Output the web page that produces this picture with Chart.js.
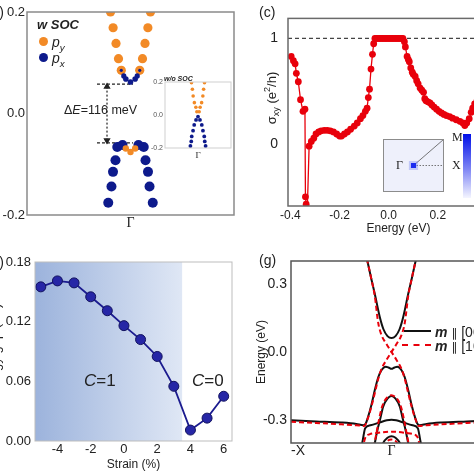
<!DOCTYPE html>
<html lang="en">
<head>
  <meta charset="UTF-8">
  <title>Band gap, Hall conductance and slab bands</title>
  <script src="https://cdn.jsdelivr.net/npm/chart.js"></script>
  <style>
    body { margin: 0; background: #fff; }
    #fig {
      position: relative; width: 474px; height: 474px; overflow: hidden; background: #fff;
      font-family: 'Liberation Sans', Arial, sans-serif; color: #222;
    }
    #fig canvas { position: absolute; }
    .t { position: absolute; white-space: nowrap; line-height: 1; }
    .rot { transform: translate(-50%, -50%) rotate(-90deg); }
    .serif { font-family: 'Liberation Serif', 'Times New Roman', serif; }
    .dot { position: absolute; border-radius: 50%; }
    sub, sup { font-size: 70%; line-height: 0; }
    .par { font-family: 'DejaVu Sans', sans-serif; font-size: 12px; }
  </style>
</head>
<body>
<div id="fig">
  <canvas id="bandsSoc" width="240" height="235" style="left:0;top:0"></canvas>
  <canvas id="bandsNoSoc" width="87" height="92" style="left:148px;top:74px"></canvas>
  <canvas id="hall" width="276" height="237" style="left:237px;top:0"></canvas>
  <canvas id="bz" width="73" height="65" style="left:377px;top:133px"></canvas>
  <canvas id="gapStrain" width="252" height="237" style="left:-12px;top:237px"></canvas>
  <canvas id="slab" width="260" height="237" style="left:237px;top:237px"></canvas>

  <!-- top left -->
  <div class="t" style="right:470px;top:5px;font-size:14px">(b)</div>
  <div class="t" style="left:37px;top:18px;font-size:13px;font-weight:bold;font-style:italic">w SOC</div>
  <div class="dot" style="left:39px;top:37px;width:9px;height:9px;background:#f28a26"></div>
  <div class="t" style="left:52px;top:35px;font-size:14px;font-style:italic">p<sub>y</sub></div>
  <div class="dot" style="left:39px;top:53px;width:9px;height:9px;background:#0d1a8c"></div>
  <div class="t" style="left:52px;top:51px;font-size:14px;font-style:italic">p<sub>x</sub></div>
  <div class="t" style="left:64px;top:104px;font-size:12.5px">&Delta;<i>E</i>=116 meV</div>
  <div class="t" style="left:164px;top:75px;font-size:7px;font-weight:bold;font-style:italic">w/o SOC</div>

  <!-- top right -->
  <div class="t" style="left:259px;top:5px;font-size:14px">(c)</div>
  <div class="t rot" style="left:271px;top:98px;font-size:13px">&sigma;<sub>xy</sub> (e<sup>2</sup>/h)</div>
  <div class="t serif" style="left:396px;top:159px;font-size:12px">&Gamma;</div>
  <div class="t serif" style="left:452px;top:131px;font-size:12px">M</div>
  <div class="t serif" style="left:452px;top:159px;font-size:12px">X</div>
  <div style="position:absolute;left:463px;top:134px;width:8px;height:64px;background:linear-gradient(#0010e8,#7f86f4 55%,#f4f5ff)"></div>

  <!-- bottom left -->
  <div class="t" style="right:470px;top:255px;font-size:14px">(f)</div>
  <div class="t rot" style="left:-5px;top:351px;font-size:13px">Energy gap (eV)</div>
  <div class="t" style="left:84px;top:372px;font-size:17px"><i>C</i>=1</div>
  <div class="t" style="left:192px;top:372px;font-size:17px"><i>C</i>=0</div>

  <!-- bottom right -->
  <div class="t" style="left:259px;top:253px;font-size:14px">(g)</div>
  <div style="position:absolute;left:404px;top:330px;width:27px;border-top:2px solid #111"></div>
  <div class="t" style="left:435px;top:325px;font-size:14px"><b><i>m</i></b> <span class="par">&#8741;</span> [001]</div>
  <div style="position:absolute;left:402px;top:344px;width:29px;border-top:2px dashed #e8000b"></div>
  <div class="t" style="left:435px;top:339px;font-size:14px"><b><i>m</i></b> <span class="par">&#8741;</span> [100]</div>
</div>

<script>
// ---- band structure with SOC (k in units of the half window, E in eV)
const pyUpK = [-0.193, 0.193, -0.168, 0.168, -0.14, 0.14, -0.116, 0.116, -0.089, 0.089];
const pyUpE = [0.200, 0.200, 0.169, 0.169, 0.138, 0.138, 0.108, 0.108, 0.085, 0.085];
const pxUpK = [-0.089, 0.089, -0.065, 0.065, -0.045, 0, 0.045];
const pxUpE = [0.085, 0.085, 0.074, 0.074, 0.068, 0.062, 0.068];
const pyDnK = [-0.045, 0, 0.045];
const pyDnE = [-0.069, -0.076, -0.069];
const pxDnK = [-0.215, 0.215, -0.184, 0.184, -0.169, 0.169, -0.145, 0.145, -0.128, 0.128, -0.077, 0.077];
const pxDnE = [-0.176, -0.176, -0.144, -0.144, -0.115, -0.115, -0.092, -0.092, -0.066, -0.066, -0.062, -0.062];
const gapTop = 0.058, gapBot = -0.058;
const gapLineK = [-0.324, 0.024];
const arrowK = -0.227;
const bandTicks = [-0.2, 0, 0.2];

// ---- inset without SOC
const nsPyK = [-0.197, 0.197, -0.17, 0.17, -0.147, 0.147, -0.11, 0.11, -0.065, 0.065, -0.035, 0.035];
const nsPyE = [0.196, 0.196, 0.156, 0.156, 0.115, 0.115, 0.075, 0.075, 0.047, 0.047, 0.02, 0.02];
const nsPxK = [0, -0.06, 0.06, -0.115, 0.115, -0.15, 0.15, -0.19, 0.19, -0.205, 0.205, -0.23, 0.23];
const nsPxE = [-0.01, -0.03, -0.03, -0.06, -0.06, -0.095, -0.095, -0.13, -0.13, -0.16, -0.16, -0.188, -0.188];

// ---- anomalous Hall conductance vs energy
const hallE = [
  -0.397, -0.388, -0.381, -0.376, -0.368, -0.359, -0.349, -0.341, -0.339, -0.336, -0.333,
  -0.324, -0.315, -0.305, -0.296, -0.285, -0.275, -0.262, -0.25, -0.238, -0.225, -0.212,
  -0.2, -0.192, -0.18, -0.168, -0.155, -0.14, -0.128, -0.115, -0.105, -0.095, -0.088,
  -0.083, -0.078, -0.072, -0.066, -0.061,
  -0.056, -0.05, -0.044, -0.038, -0.032, -0.026, -0.02, -0.014, -0.008, -0.002,
  0.004, 0.01, 0.016, 0.022, 0.028, 0.034, 0.04, 0.046, 0.052, 0.058,
  0.064, 0.068, 0.075, 0.08, 0.084, 0.09, 0.096, 0.1, 0.108, 0.114, 0.12, 0.128, 0.135,
  0.142, 0.147, 0.152, 0.16, 0.168, 0.176, 0.185, 0.195, 0.205, 0.215, 0.225, 0.235,
  0.248, 0.26, 0.275, 0.29, 0.302, 0.31, 0.318, 0.328, 0.336, 0.342, 0.35, 0.36
];
const hallS = [
  0.83, 0.79, 0.76, 0.67, 0.59, 0.42, 0.31, 0.33, -0.50, -0.57, -0.75,
  -0.02, 0.025, 0.055, 0.095, 0.115, 0.125, 0.13, 0.13, 0.125, 0.115, 0.095,
  0.075, 0.075, 0.095, 0.115, 0.14, 0.17, 0.2, 0.24, 0.27, 0.31, 0.34,
  0.44, 0.52, 0.71, 0.85, 0.95,
  1, 1, 1, 1, 1, 1, 1, 1, 1, 1,
  1, 1, 1, 1, 1, 1, 1, 1, 1, 1,
  0.97, 0.92, 0.83, 0.80, 0.78, 0.72, 0.68, 0.66, 0.64, 0.60, 0.57, 0.53, 0.51,
  0.49, 0.43, 0.41, 0.40, 0.39, 0.37, 0.35, 0.33, 0.31, 0.295, 0.28, 0.27,
  0.26, 0.245, 0.23, 0.215, 0.20, 0.175, 0.20, 0.24, 0.30, 0.34, 0.38, 0.41
];
const quantum = 1;
const hallXTicks = [-0.4, -0.2, 0, 0.2, 0.4];
const hallYTicks = [0, 1];

// ---- Brillouin zone inset (unit square)
const bzGamma = [0.5, 0.5], bzM = [1, 1], bzX = [1, 0.5];

// ---- gap vs strain
const strain = [-5, -4, -3, -2, -1, 0, 1, 2, 3, 4, 5, 6];
const gap = [0.155, 0.161, 0.159, 0.145, 0.131, 0.116, 0.102, 0.085, 0.055, 0.011, 0.023, 0.045];
const chernEdge = 3.5;
const strainTicks = [-4, -2, 0, 2, 4, 6];
const gapTicks = [0, 0.06, 0.12, 0.18];

// ---- slab bands, -X .. Γ .. X
const cbK = [-0.245, -0.2, -0.166, -0.116, -0.08, -0.04, 0, 0.04, 0.08, 0.116, 0.166, 0.2, 0.245];
const cbE = [0.41, 0.32, 0.255, 0.153, 0.10, 0.07, 0.061, 0.07, 0.10, 0.153, 0.255, 0.32, 0.41];
const vb1K = [-1, -0.75, -0.5, -0.35, -0.28, -0.255, -0.232, -0.2, -0.166, -0.13, -0.1, -0.057, -0.03, 0,
  0.03, 0.057, 0.1, 0.13, 0.166, 0.2, 0.232, 0.255, 0.28, 0.35, 0.5, 0.75, 1];
const vb1E = [-0.30, -0.305, -0.31, -0.316, -0.322, -0.313, -0.284, -0.233, -0.167, -0.109, -0.08, -0.065, -0.068, -0.074,
  -0.068, -0.065, -0.08, -0.109, -0.167, -0.233, -0.284, -0.313, -0.322, -0.316, -0.31, -0.305, -0.30];
const vb2K = [-0.175, -0.166, -0.133, -0.11, -0.083, -0.04, 0, 0.04, 0.083, 0.11, 0.133, 0.166, 0.175];
const vb2E = [-0.42, -0.40, -0.33, -0.29, -0.24, -0.205, -0.193, -0.205, -0.24, -0.29, -0.33, -0.40, -0.42];
const vb3K = [-0.3, -0.285, -0.262, -0.21, -0.12, -0.047, 0, 0.047, 0.12, 0.21, 0.262, 0.285, 0.3];
const vb3E = [-0.42, -0.385, -0.335, -0.322, -0.31, -0.30, -0.298, -0.30, -0.31, -0.322, -0.335, -0.385, -0.42];
const vb4K = [-0.11, -0.083, -0.04, 0, 0.04, 0.083, 0.11];
const vb4E = [-0.43, -0.40, -0.377, -0.37, -0.377, -0.40, -0.43];
// gapless case (dashed): two crossing branches
const dA_K = [-0.245, -0.2, -0.166, -0.133, -0.1, -0.05, 0, 0.05, 0.1, 0.133, 0.166, 0.2, 0.242, 0.27, 0.35, 0.5, 0.75, 1];
const dA_E = [0.41, 0.32, 0.245, 0.13, 0.075, 0.035, 0, -0.035, -0.075, -0.12, -0.18, -0.24, -0.30, -0.325, -0.322, -0.318, -0.312, -0.307];
const dB_K = [-1, -0.75, -0.5, -0.35, -0.27, -0.242, -0.2, -0.166, -0.133, -0.1, -0.05, 0, 0.05, 0.1, 0.133, 0.166, 0.2, 0.245];
const dB_E = [-0.307, -0.312, -0.318, -0.322, -0.325, -0.30, -0.24, -0.18, -0.12, -0.075, -0.035, 0, 0.035, 0.075, 0.13, 0.245, 0.32, 0.41];
const d2K = [-0.18, -0.16, -0.13, -0.1, -0.07, -0.035, 0, 0.035, 0.07, 0.1, 0.13, 0.16, 0.18];
const d2E = [-0.42, -0.38, -0.31, -0.25, -0.215, -0.197, -0.19, -0.197, -0.215, -0.25, -0.31, -0.38, -0.42];
const d3K = [-0.29, -0.26, -0.22, -0.146, 0, 0.146, 0.22, 0.26, 0.29];
const d3E = [-0.43, -0.375, -0.362, -0.356, -0.35, -0.356, -0.362, -0.375, -0.43];
const d4K = [-0.08, -0.05, 0, 0.05, 0.08];
const d4E = [-0.42, -0.395, -0.385, -0.395, -0.42];
const slabXTicks = [-1, 0, 1];
const slabXLabels = ['-X', 'Γ', 'X'];
const slabYTicks = [-0.3, 0, 0.3];

const ORANGE = '#f28a26';
const NAVY = '#0d1a8c';
const RED = '#e8000b';
const SANS = "'Liberation Sans', Arial, sans-serif";
const SERIF = "'Liberation Serif', 'Times New Roman', serif";

Chart.defaults.animation = false;
Chart.defaults.responsive = false;
Chart.defaults.font.family = SANS;
Chart.defaults.color = '#222';
Chart.defaults.plugins.legend.display = false;
Chart.defaults.plugins.tooltip.enabled = false;

const toPts = (xs, ys) => xs.map((x, i) => ({ x, y: ys[i] }));
const fixTicks = vals => s => { s.ticks = vals.map(v => ({ value: v })); };
const noGrid = { display: false, drawTicks: false };

// box around the plot area (optionally filled)
Chart.register({
  id: 'frame',
  beforeDatasetsDraw(chart, args, opts) {
    if (!opts.fill) return;
    const { ctx, chartArea: a } = chart;
    ctx.save();
    ctx.fillStyle = opts.fill;
    ctx.fillRect(a.left, a.top, a.right - a.left, a.bottom - a.top);
    ctx.restore();
  },
  afterDatasetsDraw(chart, args, opts) {
    const { ctx, chartArea: a } = chart;
    ctx.save();
    ctx.strokeStyle = opts.color || '#777';
    ctx.lineWidth = opts.width || 1.5;
    ctx.strokeRect(a.left, a.top, a.right - a.left, a.bottom - a.top);
    ctx.restore();
  }
});

// ---------- top left: bands with SOC
new Chart(document.getElementById('bandsSoc'), {
  type: 'scatter',
  data: {
    datasets: [
      { data: toPts(pxUpK, pxUpE), backgroundColor: NAVY, borderWidth: 0, pointRadius: [1.6, 1.6, 2.6, 2.6, 2.8, 2.8, 2.8], order: 0 },
      { data: toPts(pyUpK, pyUpE), backgroundColor: ORANGE, borderWidth: 0, pointRadius: 4.6, clip: 0, order: 2 },
      { data: toPts(pyDnK, pyDnE), backgroundColor: ORANGE, borderWidth: 0, pointRadius: 3.2, order: 1 },
      { data: toPts(pxDnK, pxDnE), backgroundColor: NAVY, borderWidth: 0, pointRadius: 5, order: 3 },
      { data: toPts(gapLineK, [gapTop, gapTop]), showLine: true, borderColor: '#222', borderWidth: 1.2, borderDash: [3, 2], pointRadius: 0, order: 4 },
      { data: toPts(gapLineK, [gapBot, gapBot]), showLine: true, borderColor: '#222', borderWidth: 1.2, borderDash: [3, 2], pointRadius: 0, order: 4 },
      { data: toPts([arrowK, arrowK], [gapTop - 0.005, gapBot + 0.005]), showLine: true, borderColor: '#222', borderWidth: 1.2, borderDash: [2, 2],
        pointStyle: 'triangle', pointRadius: 3, rotation: [0, 180], backgroundColor: '#222', order: 4 }
    ]
  },
  options: {
    layout: { padding: { top: 12, right: 6, left: 0, bottom: 0 } },
    scales: {
      x: { min: -1, max: 1, grid: noGrid, border: { display: false },
        afterBuildTicks: fixTicks([0]), afterFit: s => { s.height = 20; },
        ticks: { callback: () => 'Γ', padding: 0, font: { family: SERIF, size: 14 } } },
      y: { min: -0.2, max: 0.2, grid: noGrid, border: { display: false },
        afterBuildTicks: fixTicks(bandTicks), afterFit: s => { s.width = 27; },
        ticks: { callback: v => v.toFixed(1), padding: 2, font: { size: 13 } } }
    },
    plugins: { frame: { color: '#8a8a8a', width: 1.5 } }
  }
});

// ---------- inset: bands without SOC
new Chart(document.getElementById('bandsNoSoc'), {
  type: 'scatter',
  data: {
    datasets: [
      { data: toPts(nsPyK, nsPyE), backgroundColor: ORANGE, borderWidth: 0, pointRadius: 1.8, clip: 0 },
      { data: toPts(nsPxK, nsPxE), backgroundColor: NAVY, borderWidth: 0, pointRadius: 1.9, clip: 0 }
    ]
  },
  options: {
    layout: { padding: { top: 8, right: 2, left: 0, bottom: 0 } },
    scales: {
      x: { min: -1, max: 1, grid: noGrid, border: { display: false },
        afterBuildTicks: fixTicks([0]), afterFit: s => { s.height = 18; },
        ticks: { callback: () => 'Γ', padding: 2, font: { family: SERIF, size: 9 } } },
      y: { min: -0.2, max: 0.2, grid: noGrid, border: { display: false },
        afterBuildTicks: fixTicks(bandTicks), afterFit: s => { s.width = 17; },
        ticks: { callback: v => v.toFixed(1), padding: 2, color: '#555', font: { size: 7 } } }
    },
    plugins: { frame: { color: '#cfcfcf', width: 1, fill: '#fff' } }
  }
});

// ---------- top right: Hall conductance
new Chart(document.getElementById('hall'), {
  type: 'scatter',
  data: {
    datasets: [
      { data: toPts(hallE, hallS), showLine: true, borderColor: RED, borderWidth: 1.3, backgroundColor: RED,
        pointRadius: 3.4, pointBorderWidth: 0, order: 0 },
      { data: toPts([-0.41, 0.49], [quantum, quantum]), showLine: true, borderColor: '#444', borderWidth: 1.2,
        borderDash: [4, 3], pointRadius: 0, order: 1 }
    ]
  },
  options: {
    layout: { padding: { top: 12, right: 0, left: 0, bottom: 0 } },
    scales: {
      x: { min: -0.41, max: 0.49, grid: noGrid, border: { display: false },
        afterBuildTicks: fixTicks(hallXTicks), afterFit: s => { s.height = 31; },
        ticks: { callback: v => v.toFixed(1), padding: 2, font: { size: 12 } },
        title: { display: true, text: 'Energy (eV)', font: { size: 12 }, padding: { top: 0, bottom: 1 } } },
      y: { min: -0.587, max: 1.19, grid: noGrid, border: { display: false },
        afterBuildTicks: fixTicks(hallYTicks), afterFit: s => { s.width = 51; },
        ticks: { callback: v => v.toFixed(0), padding: 10, font: { size: 14 } } }
    },
    plugins: { frame: { color: '#6a6a6a', width: 1.5 } }
  }
});

// ---------- inset: Brillouin zone
new Chart(document.getElementById('bz'), {
  type: 'scatter',
  data: {
    datasets: [
      { data: [{ x: bzGamma[0], y: bzGamma[1] }], backgroundColor: '#1a2cf0', pointStyle: 'rect', pointRadius: 3.6, borderWidth: 0, order: 0 },
      { data: [{ x: bzGamma[0], y: bzGamma[1] }], backgroundColor: 'rgba(110,125,245,0.35)', pointStyle: 'rect', pointRadius: 6.5, borderWidth: 0, order: 1 },
      { data: toPts([bzGamma[0], bzM[0]], [bzGamma[1], bzM[1]]), showLine: true, borderColor: '#555', borderWidth: 0.8, pointRadius: 0, order: 2 },
      { data: toPts([bzGamma[0], bzX[0]], [bzGamma[1], bzX[1]]), showLine: true, borderColor: '#555', borderWidth: 0.8, borderDash: [1.5, 1.5], pointRadius: 0, order: 2 }
    ]
  },
  options: {
    layout: { padding: 0 },
    scales: { x: { display: false, min: 0, max: 1 }, y: { display: false, min: 0, max: 1 } },
    plugins: { frame: { color: '#8c8c8c', width: 1, fill: '#eef0fb' } }
  }
});

// ---------- bottom left: gap vs strain
new Chart(document.getElementById('gapStrain'), {
  type: 'scatter',
  data: {
    datasets: [
      { data: toPts(strain, gap), showLine: true, borderColor: '#1b1b8f', borderWidth: 1.8,
        backgroundColor: '#2626a6', pointBorderColor: '#12125e', pointBorderWidth: 1, pointRadius: 5 }
    ]
  },
  options: {
    layout: { padding: { top: 25, right: 8, left: 0, bottom: 0 } },
    scales: {
      x: { min: -5.35, max: 6.5, grid: noGrid, border: { display: false },
        afterBuildTicks: fixTicks(strainTicks), afterFit: s => { s.height = 33; },
        ticks: { padding: 1, font: { size: 13 } },
        title: { display: true, text: 'Strain (%)', font: { size: 12 }, padding: { top: 0, bottom: 2 } } },
      y: { min: 0, max: 0.18, grid: noGrid, border: { display: false },
        afterBuildTicks: fixTicks(gapTicks), afterFit: s => { s.width = 47; },
        ticks: { callback: v => v.toFixed(2), padding: 4, font: { size: 13 } } }
    },
    plugins: { frame: { color: '#bdbdbd', width: 1 } }
  },
  plugins: [{
    id: 'chernShade',
    beforeDatasetsDraw(chart) {
      const { ctx, chartArea: a, scales: { x } } = chart;
      const edge = x.getPixelForValue(chernEdge);
      const g = ctx.createLinearGradient(a.left, 0, edge, 0);
      g.addColorStop(0, '#9cb3dc');
      g.addColorStop(1, '#dfe7f5');
      ctx.save();
      ctx.fillStyle = g;
      ctx.fillRect(a.left, a.top, edge - a.left, a.bottom - a.top);
      ctx.restore();
    }
  }]
});

// ---------- bottom right: slab bands
const solid = (k, e) => ({ data: toPts(k, e), showLine: true, borderColor: '#111', borderWidth: 2,
  pointRadius: 0, cubicInterpolationMode: 'monotone', order: 1 });
const dashed = (k, e) => ({ data: toPts(k, e), showLine: true, borderColor: RED, borderWidth: 2, borderDash: [5, 3],
  pointRadius: 0, cubicInterpolationMode: 'monotone', order: 0 });

new Chart(document.getElementById('slab'), {
  type: 'scatter',
  data: {
    datasets: [
      solid(cbK, cbE), solid(vb1K, vb1E), solid(vb2K, vb2E), solid(vb3K, vb3E), solid(vb4K, vb4E),
      dashed(dA_K, dA_E), dashed(dB_K, dB_E), dashed(d2K, d2E), dashed(d3K, d3E), dashed(d4K, d4E)
    ]
  },
  options: {
    layout: { padding: { top: 24, right: 5, left: 0, bottom: 0 } },
    scales: {
      x: { min: -1, max: 1, grid: noGrid, border: { display: false },
        afterBuildTicks: fixTicks(slabXTicks), afterFit: s => { s.height = 31; },
        ticks: { align: 'inner', padding: 0, callback: (v, i) => slabXLabels[i],
          font: c => ({ family: c.tick && c.tick.value === 0 ? SERIF : SANS, size: 14 }) } },
      y: { min: -0.4, max: 0.4, grid: noGrid, border: { display: false },
        afterBuildTicks: fixTicks(slabYTicks), afterFit: s => { s.width = 54; },
        ticks: { callback: v => v.toFixed(1), padding: 4, font: { size: 14 } },
        title: { display: true, text: 'Energy (eV)', font: { size: 12 }, padding: { top: 17, bottom: 0 } } }
    },
    plugins: { frame: { color: '#555', width: 1.5 } }
  }
});
</script>
</body>
</html>
